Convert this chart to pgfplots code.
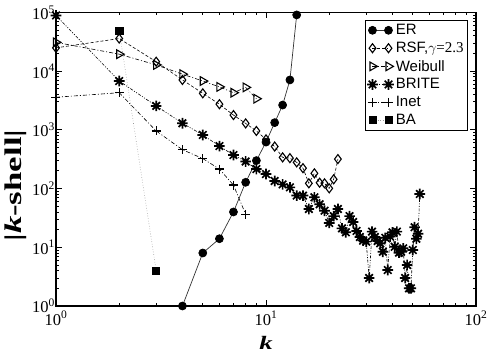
\documentclass[border=0pt]{standalone}
\usepackage{fontspec}
\setmainfont{Liberation Serif}
\setsansfont{Liberation Sans}
\usepackage{graphicx}
\usepackage{pgfplots}
\pgfplotsset{compat=1.18}

% eight-armed asterisk for the BRITE curve
\pgfdeclareplotmark{ast8}{%
  \pgfpathmoveto{\pgfqpoint{-\pgfplotmarksize}{0pt}}%
  \pgfpathlineto{\pgfqpoint{\pgfplotmarksize}{0pt}}%
  \pgfpathmoveto{\pgfqpoint{0pt}{-\pgfplotmarksize}}%
  \pgfpathlineto{\pgfqpoint{0pt}{\pgfplotmarksize}}%
  \pgfpathmoveto{\pgfqpoint{-0.707\pgfplotmarksize}{-0.707\pgfplotmarksize}}%
  \pgfpathlineto{\pgfqpoint{0.707\pgfplotmarksize}{0.707\pgfplotmarksize}}%
  \pgfpathmoveto{\pgfqpoint{-0.707\pgfplotmarksize}{0.707\pgfplotmarksize}}%
  \pgfpathlineto{\pgfqpoint{0.707\pgfplotmarksize}{-0.707\pgfplotmarksize}}%
  \pgfusepathqstroke}

\begin{document}
\begin{tikzpicture}
\begin{axis}[
  xmode=log, ymode=log,
  scale only axis, width=420pt, height=293.5pt,
  xmin=1, xmax=100, ymin=1, ymax=1e5,
  xtick={1,10,100},
  xticklabels={10\textsuperscript{0},10\textsuperscript{1},10\textsuperscript{2}},
  ytick={1,10,100,1000,10000,100000},
  yticklabels={10\textsuperscript{0},10\textsuperscript{1},10\textsuperscript{2},10\textsuperscript{3},10\textsuperscript{4},10\textsuperscript{5}},
  minor xtick={2,3,4,5,6,7,8,9,20,30,40,50,60,70,80,90},
  minor ytick={2,3,4,5,6,7,8,9,20,30,40,50,60,70,80,90,
    200,300,400,500,600,700,800,900,2000,3000,4000,5000,6000,7000,8000,9000,
    20000,30000,40000,50000,60000,70000,80000,90000},
  tick label style={font=\fontsize{16.5}{18}\selectfont},
  yticklabel style={inner sep=1pt},
  xticklabel style={inner sep=1pt, yshift=-4pt},
  major tick length=6pt, minor tick length=3pt,
  every tick/.style={black, line width=0.9pt},
  axis line style={line width=1.1pt},
  xlabel={\scalebox{1.4}[1]{\fontsize{19}{20}\selectfont\bfseries\itshape k}},
  ylabel={\scalebox{1.45}[1]{\fontsize{24}{26}\selectfont\bfseries |\textit{k}-shell|}},
  xlabel style={at={(axis description cs:0.5,-0.148)}, anchor=base, inner sep=0pt},
  ylabel style={at={(axis description cs:-0.095,0.41)}, anchor=center},
  legend style={at={(rel axis cs:1,1)}, anchor=north east, xshift=-8pt, yshift=-7.5pt,
    draw=black, line width=0.8pt, font=\sffamily\fontsize{15}{16}\selectfont,
    row sep=2pt, inner sep=2pt},
  legend cell align=left,
  legend image code/.code={\draw[#1] plot coordinates {(0pt,0pt) (16pt,0pt)};},
  reverse legend,
]
% BA
\addplot[gray!80, line width=0.6pt, dotted,
  mark=square*, mark size=3.6pt, mark options={solid, black, fill=black}]
  coordinates {(2,49000) (3,4.0)};
\addlegendentry{BA}
% Inet
\addplot[black, line width=0.6pt, dash pattern=on 4pt off 2pt on 1pt off 2pt,
  mark=+, mark size=4.5pt, mark options={solid, line width=1.2pt}]
  coordinates {(1,3600) (2,4300) (3,960) (4,460) (5,325) (6,215) (7,115) (8,36.5)};
\addlegendentry{Inet}
% BRITE
\addplot[black, line width=0.6pt, dash pattern=on 3pt off 1.5pt on 1pt off 1.5pt on 1pt off 1.5pt,
  mark=ast8, mark size=5.3pt, mark options={solid, line width=1.7pt}]
  coordinates {(1,89000) (2,6800) (3,2560) (4,1300) (5,820) (6,530) (7,373) (8,290)
    (9,215) (10,177) (11,135) (12,118) (13,105) (14,76) (15,76) (16,45) (17,71)
    (18,54) (19,42) (20,26) (21,34) (22,45) (23,21) (24,18) (25,34) (26,27)
    (27,19) (28,15) (29,13) (30,12.5) (31,3.0) (32,18.5) (33,15) (34,12.8)
    (35,11.7) (36,8.4) (37,14.5) (38,4.1) (39,15.2) (40,18) (41,10.2) (42,18.5)
    (43,8.1) (44,8.4) (45,9.6) (46,3.0) (47,5.0) (48,2.0) (49,2.0) (50,9.0)
    (51,22) (52,14) (53,17) (54,81)};
\addlegendentry{BRITE}
% Weibull
\addplot[black, line width=0.6pt, dash pattern=on 4pt off 2pt on 1pt off 2pt,
  mark=triangle, mark size=5pt, mark options={solid, rotate=-90, fill=white, line width=1.1pt}]
  coordinates {(1,31000) (2,19500) (3,12800) (4,8900) (5,6800) (6,5400) (7,4300) (8,5300) (9,3400)};
\addlegendentry{Weibull}
% RSF
\addplot[black, line width=0.6pt, dash pattern=on 3pt off 2pt,
  mark=diamond, mark size=4.5pt, mark options={solid, fill=white, line width=1.1pt}]
  coordinates {(1,25000) (2,36000) (3,14500) (4,7100) (5,4200) (6,2740) (7,1790)
    (8,1290) (9,960) (10,690) (11,520) (12,340) (13,330) (14,280) (15,223)
    (16,123) (17,182) (18,126) (19,123) (20,101) (21,144) (22,318)};
\addlegendentry{RSF,{\rmfamily$\gamma$=2.3}}
% ER
\addplot[black!80, line width=0.7pt, solid,
  mark=*, mark size=4pt, mark options={black, fill=black}]
  coordinates {(4,1) (5,8) (6,14) (7,40) (8,128) (9,300) (10,620) (11,1330)
    (12,2650) (13,7100) (14,91000)};
\addlegendentry{ER}
\end{axis}
% pin the page to the reference's frame around the axis box
\pgfresetboundingbox
\path[use as bounding box] (-56pt,-51pt) rectangle (435pt,306pt);
\end{tikzpicture}
\end{document}
